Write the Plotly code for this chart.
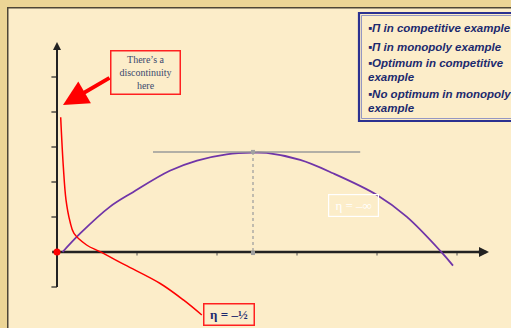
import plotly.graph_objects as go

# ---- data (units: x tick spacing = 1, y tick spacing = 1) ----
comp_x = [0.07, 0.29, 0.66, 0.95, 1.41, 1.75, 2.12, 2.45, 2.62, 3.04, 3.45, 4.00, 4.37, 4.80, 4.95]
comp_y = [0.00, 0.53, 1.29, 1.71, 2.32, 2.61, 2.79, 2.84, 2.83, 2.63, 2.25, 1.63, 1.01, 0.01, -0.39]

mono_x = [0.046, 0.079, 0.1125, 0.1625, 0.2125, 0.37, 0.5375, 0.85, 1.29, 1.58, 1.81]
mono_y = [3.85, 2.44, 1.49, 0.87, 0.53, 0.20, 0.01, -0.37, -0.90, -1.37, -1.80]

opt_x = 2.45
opt_y = 2.86
tangent_x = [1.20, 3.79]

x_ticks = [1, 2, 3, 4, 5]
y_ticks = [-1, 1, 2, 3, 4, 5]
x_axis_end = 5.4
y_axis_top = 6.0
y_axis_bottom = -1.0

legend_lines = [
    "▪<b><i>Π</i></b><i> in competitive example</i>",
    "▪<b><i>Π</i></b><i> in monopoly example</i>",
    "▪<i>Optimum in competitive</i>",
    "<i>example</i>",
    "▪<i>No optimum in monopoly</i>",
    "<i>example</i>",
]
legend_ys = [28, 47, 63, 77, 94, 108]

W, H = 511, 328
X0, Y0, SX, SY = 57, 252, 80, 35
xr = [(0 - X0) / SX, (W - X0) / SX]
yr = [(Y0 - H) / SY, (Y0 - 0) / SY]

def px(x):
    return x / W

def py(y):
    return 1 - y / H

NAVY = "#1c2a6e"
AX = "#222222"
fig = go.Figure()

# axes
fig.add_trace(go.Scatter(x=[0, 0], y=[y_axis_bottom, y_axis_top - 0.15], mode="lines", line=dict(color=AX, width=2), hoverinfo="skip"))
fig.add_trace(go.Scatter(x=[-0.06, x_axis_end - 0.08], y=[0, 0], mode="lines", line=dict(color=AX, width=2.5), hoverinfo="skip"))
# curves
fig.add_trace(go.Scatter(x=comp_x, y=comp_y, mode="lines", line=dict(color="#7035a8", width=1.8, shape="spline"), hoverinfo="skip"))
fig.add_trace(go.Scatter(x=mono_x, y=mono_y, mode="lines", line=dict(color="#ff0000", width=1.5, shape="spline"), hoverinfo="skip"))
fig.add_trace(go.Scatter(x=tangent_x, y=[opt_y, opt_y], mode="lines", line=dict(color="#9a9a9a", width=1.5), hoverinfo="skip"))
fig.add_trace(go.Scatter(x=[opt_x, opt_x], y=[opt_y, -0.03], mode="lines+markers", line=dict(color="#a0a0a0", width=1.3, dash="dot"),
                         marker=dict(color="#a0a0a0", size=4, symbol="square"), hoverinfo="skip"))
fig.add_trace(go.Scatter(x=[0], y=[0], mode="markers", marker=dict(color="#ff0000", size=7), hoverinfo="skip"))

shapes = [
    # background
    dict(type="rect", xref="paper", yref="paper", x0=0, x1=1, y0=0, y1=1, fillcolor="#ecd596", line_width=0, layer="below"),
    dict(type="rect", xref="paper", yref="paper", x0=px(7), x1=1, y0=0, y1=py(7), fillcolor="#4e4636", line_width=0, layer="below"),
    dict(type="rect", xref="paper", yref="paper", x0=px(8.5), x1=1, y0=0, y1=py(8.5), fillcolor="#fcedc9", line_width=0, layer="below"),
    # legend box
    dict(type="rect", xref="paper", yref="paper", x0=px(359), x1=px(515), y0=py(121), y1=py(13), fillcolor="#fcedc9", line=dict(color="#2b3190", width=2.2), layer="below"),
    dict(type="rect", xref="paper", yref="paper", x0=px(361.5), x1=px(515), y0=py(118.5), y1=py(15.5), fillcolor="rgba(0,0,0,0)", line=dict(color="#7a80c0", width=0.8), layer="below"),
]
# ticks
for t in y_ticks:
    shapes.append(dict(type="line", xref="x", yref="y", x0=-0.07, x1=0, y0=t, y1=t, line=dict(color=AX, width=1.2), layer="below"))
for t in x_ticks:
    shapes.append(dict(type="line", xref="x", yref="y", x0=t, x1=t, y0=0, y1=-0.1, line=dict(color="#555", width=1), layer="below"))

annotations = [
    # arrowheads of the axes
    dict(x=0, y=y_axis_top, ax=0, ay=y_axis_top - 0.3, xref="x", yref="y", axref="x", ayref="y", text="", showarrow=True,
         arrowhead=2, arrowsize=0.8, arrowwidth=2, arrowcolor=AX),
    dict(x=x_axis_end, y=0, ax=x_axis_end - 0.15, ay=0, xref="x", yref="y", axref="x", ayref="y", text="", showarrow=True,
         arrowhead=2, arrowsize=0.8, arrowwidth=2.5, arrowcolor=AX),
    # red arrow
    dict(x=(63 - X0) / SX, y=(Y0 - 105) / SY, ax=(111 - X0) / SX, ay=(Y0 - 77) / SY, xref="x", yref="y", axref="x", ayref="y",
         text="", showarrow=True, arrowhead=2, arrowsize=1.25, arrowwidth=4, arrowcolor="#ff0000"),
    # discontinuity box
    dict(x=px(145.5), y=py(72.5), xref="paper", yref="paper", xanchor="center", yanchor="middle", showarrow=False,
         text="There’s a<br>discontinuity<br>here", font=dict(family="Liberation Serif", size=10, color="#3b4a6e"),
         bordercolor="#ff2020", borderwidth=1.5, borderpad=2, width=64, height=38, bgcolor="#fcedc9"),
    # eta = -1/2
    dict(x=px(228.5), y=py(314), xref="paper", yref="paper", xanchor="center", yanchor="middle", showarrow=False,
         text="<b>η = –½</b>", font=dict(family="Liberation Serif", size=13, color=NAVY),
         bordercolor="#ff2020", borderwidth=1.5, borderpad=1, width=47, height=18, bgcolor="#fcedc9"),
    # eta = -inf
    dict(x=px(353.5), y=py(205.5), xref="paper", yref="paper", xanchor="center", yanchor="middle", showarrow=False,
         text="η = –∞", font=dict(family="Liberation Serif", size=13, color="#ffffff"),
         bordercolor="#ffffff", borderwidth=1.2, borderpad=1, width=47, height=19),
]
for txt, yy in zip(legend_lines, legend_ys):
    annotations.append(dict(x=px(366), y=py(yy), xref="paper", yref="paper", xanchor="left", yanchor="middle",
                            showarrow=False, text="<b>" + txt + "</b>",
                            font=dict(family="Liberation Sans", size=11.5, color=NAVY)))

fig.update_layout(
    width=W, height=H, autosize=False, margin=dict(l=0, r=0, t=0, b=0),
    paper_bgcolor="#fcedc9", plot_bgcolor="rgba(0,0,0,0)", showlegend=False,
    xaxis=dict(range=xr, visible=False, fixedrange=True),
    yaxis=dict(range=yr, visible=False, fixedrange=True),
    shapes=shapes, annotations=annotations,
)
fig.write_html("out.html", config={"displayModeBar": False},
               post_script="document.body.style.margin='0';document.body.style.overflow='hidden';")
